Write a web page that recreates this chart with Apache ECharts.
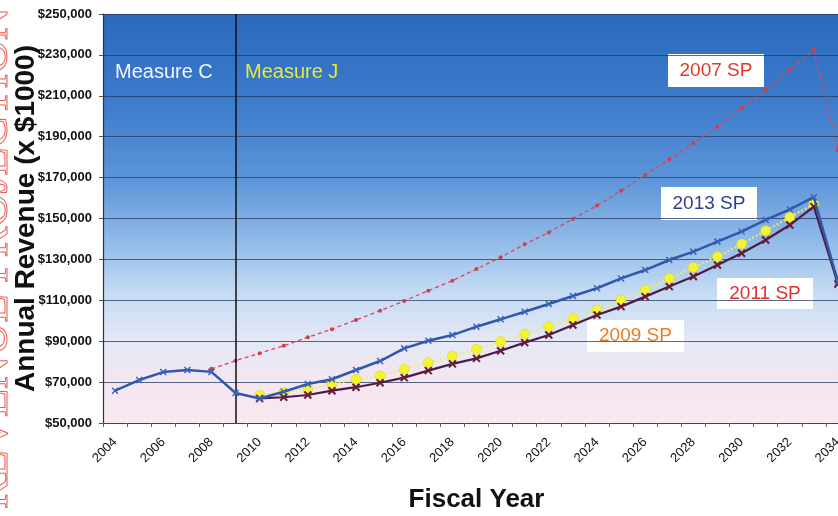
<!DOCTYPE html>
<html>
<head>
<meta charset="utf-8">
<script src="https://cdn.jsdelivr.net/npm/echarts@6/dist/echarts.min.js"></script>
<style>
html,body{margin:0;padding:0;background:#fff;overflow:hidden;}
#chart{width:838px;height:516px;}
</style>
</head>
<body>
<div id="chart"></div>
<script>
const years = ['2004','2005','2006','2007','2008','2009','2010','2011','2012','2013','2014','2015','2016','2017','2018','2019','2020','2021','2022','2023','2024','2025','2026','2027','2028','2029','2030','2031','2032','2033','2034'];

const sp2013 = [65800,71000,74900,75900,75000,64700,62000,65300,69100,71400,75900,80300,86500,90200,93000,97100,100700,104400,108200,112100,115900,120700,124800,129700,133800,138700,143600,149300,154500,160400,119000];

const sp2011 = [null,null,null,null,null,null,62000,62600,63700,65800,67500,69700,72200,75600,78900,81600,85300,89300,93000,97900,102800,106900,111800,116700,121600,127300,133000,139500,146800,155800,118000];

const sp2009 = [null,null,null,null,null,null,63700,65000,66500,68900,71400,73100,76300,79500,82800,86000,89800,93400,97100,101200,105300,110100,115000,120700,126100,131300,137500,144000,150600,157000,null];

const sp2007 = [null,null,null,null,76500,80500,84100,87800,91900,95900,100400,104900,109700,114700,119600,125300,131000,137400,143200,149800,156300,163600,171300,178900,186800,194900,204200,212800,222600,232400,183500];

const yMin = 50000, yMax = 250000, yStep = 20000;
const dividerYear = '2009';
const seriesNames = ['2007 SP','2009 SP','2011 SP','2013 SP'];
const regionNames = ['Measure C','Measure J'];

const FONT = '"Liberation Sans", Arial, sans-serif';
const xMark = 'path://M0,0L10,10M10,0L0,10';

const chart = echarts.init(document.getElementById('chart'));

function labelBox(x, y, w, h, text, color) {
  return {
    type: 'group', x: x, y: y, z: 50,
    children: [
      { type: 'rect', shape: { x: 0, y: 0, width: w, height: h }, style: { fill: '#ffffff' } },
      { type: 'text', x: w / 2, y: h / 2, style: { text: text, fill: color, font: '19px ' + FONT, align: 'center', verticalAlign: 'middle' } }
    ]
  };
}

const option = {
  backgroundColor: '#ffffff',
  animation: false,
  grid: {
    left: 103, top: 14, width: 747, height: 409,
    outerBoundsMode: 'none',
    containLabel: false,
    show: true, borderWidth: 0,
    backgroundColor: {
      type: 'linear', x: 0, y: 0, x2: 0, y2: 1,
      colorStops: [
        { offset: 0, color: '#2c69bc' },
        { offset: 0.2, color: '#3a7acb' },
        { offset: 0.4, color: '#5b94d8' },
        { offset: 0.55, color: '#8fb9e8' },
        { offset: 0.68, color: '#c4dbf3' },
        { offset: 0.8, color: '#e4e8f6' },
        { offset: 0.9, color: '#f4e6f1' },
        { offset: 1, color: '#f9e8f2' }
      ]
    }
  },
  xAxis: {
    type: 'category',
    data: years,
    boundaryGap: true,
    name: 'Fiscal Year',
    nameLocation: 'middle',
    nameMoveOverlap: false,
    nameGap: 64,
    nameTextStyle: { fontFamily: FONT, fontWeight: 'bold', fontSize: 26, color: '#111' },
    axisLine: { show: true, lineStyle: { color: '#444', width: 1.2 } },
    axisTick: { show: true, interval: 0, length: 4, lineStyle: { color: '#666' } },
    axisLabel: { interval: 1, rotate: 45, margin: 17, fontFamily: FONT, fontSize: 13, color: '#111' },
    splitLine: { show: false }
  },
  yAxis: {
    type: 'value',
    min: yMin, max: yMax, interval: yStep,
    name: 'Annual Revenue (x $1000)',
    nameLocation: 'middle',
    nameMoveOverlap: false,
    nameGap: 63,
    nameTextStyle: { fontFamily: FONT, fontWeight: 'bold', fontSize: 28, color: '#111' },
    axisLine: { show: true, lineStyle: { color: '#333', width: 1.2 } },
    axisTick: { show: true, length: 4, lineStyle: { color: '#555' } },
    axisLabel: {
      margin: 11, fontFamily: FONT, fontWeight: 'bold', fontSize: 13, color: '#111',
      formatter: v => '$' + v.toLocaleString('en-US')
    },
    splitLine: { show: true, lineStyle: { color: 'rgba(40,55,95,0.75)', width: 1.2 } }
  },
  series: [
    {
      name: seriesNames[0], type: 'line', data: sp2007, z: 2,
      symbol: 'circle', symbolSize: 4, showSymbol: true,
      lineStyle: { color: '#d9475a', width: 1.3, type: [4, 3] },
      itemStyle: { color: '#d63a4c' }
    },
    {
      name: seriesNames[1], type: 'line', data: sp2009, z: 3,
      symbol: 'circle', symbolSize: 10,
      lineStyle: { color: '#ecec70', width: 2, type: 'dotted' },
      itemStyle: { color: '#f5f432', borderColor: '#d8d020', borderWidth: 0.5 }
    },
    {
      name: seriesNames[2], type: 'line', data: sp2011, z: 4,
      symbol: xMark, symbolSize: 7,
      lineStyle: { color: '#4d1c42', width: 2.2 },
      itemStyle: { color: 'rgba(0,0,0,0)', borderColor: '#6a1c36', borderWidth: 2 }
    },
    {
      name: seriesNames[3], type: 'line', data: sp2013, z: 5,
      symbol: xMark, symbolSize: 6,
      lineStyle: { color: '#2f58ad', width: 2.5 },
      itemStyle: { color: 'rgba(0,0,0,0)', borderColor: '#3a63b8', borderWidth: 1.5 },
      markLine: {
        silent: true, symbol: 'none', label: { show: false },
        lineStyle: { color: '#111', width: 1.5, type: 'solid' },
        data: [{ xAxis: dividerYear }]
      }
    }
  ],
  graphic: [
    {
      type: 'text', x: -5, y: 258, rotation: Math.PI / 2, z: 1,
      style: {
        text: 'REVENUE PROJECTION', font: '46px "Liberation Serif", serif',
        fill: 'rgba(255,255,255,0)', stroke: '#ec5a50', lineWidth: 1,
        align: 'center', verticalAlign: 'middle'
      }
    },
    { type: 'text', x: 115, y: 72, z: 50, style: { text: regionNames[0], fill: '#f2f6ff', font: '20px ' + FONT, verticalAlign: 'middle' } },
    { type: 'text', x: 245, y: 72, z: 50, style: { text: regionNames[1], fill: '#e8e83e', font: '20px ' + FONT, verticalAlign: 'middle' } },
    labelBox(668, 54, 96, 33, seriesNames[0], '#e3352c'),
    labelBox(661, 187, 96, 33, seriesNames[3], '#2b3f92'),
    labelBox(717, 278, 96, 31, seriesNames[2], '#e0302a'),
    labelBox(587, 320, 97, 32, seriesNames[1], '#ee7b22')
  ]
};

chart.setOption(option);
</script>
</body>
</html>
